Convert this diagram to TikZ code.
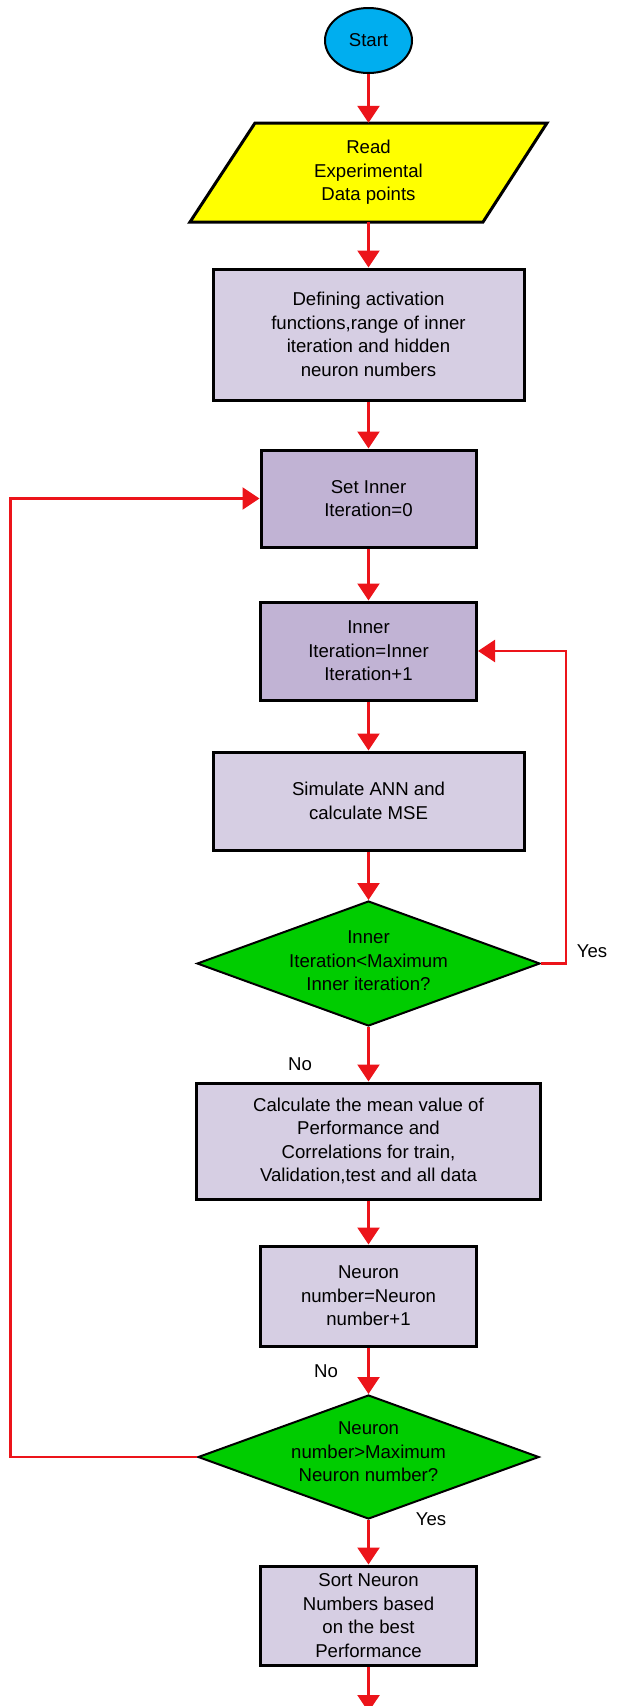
\documentclass[tikz,border=0pt]{standalone}
\usepackage{fontspec}
\setmainfont{Liberation Sans}
\usetikzlibrary{shapes.geometric,arrows.meta,backgrounds}
\definecolor{startblue}{RGB}{0,174,239}
\definecolor{readyellow}{RGB}{255,255,0}
\definecolor{lightlav}{RGB}{214,206,227}
\definecolor{darklav}{RGB}{193,179,212}
\definecolor{decgreen}{RGB}{0,204,0}
\definecolor{arrred}{RGB}{236,20,26}
\tikzset{
  txt/.style={align=center,font=\fontsize{18.6}{23.5}\selectfont,inner sep=0pt},
  procbox/.style={txt,draw=black,line width=3pt,rectangle},
  decision/.style={shape=diamond,draw=black,line width=2pt,fill=decgreen,inner sep=0pt},
  arr/.style={draw=arrred,line width=2.5pt,-{Triangle[width=22pt,length=17pt]}},
  lbl/.style={font=\fontsize{18.6}{23.5}\selectfont,inner sep=0pt}
}
\begin{document}
\begin{tikzpicture}[x=1pt,y=-1pt]
\path[clip] (0,0) rectangle (617,1706);
% nodes
\node[txt,shape=ellipse,draw=black,line width=2pt,fill=startblue,minimum width=87pt,minimum height=65pt] (start) at (368.5,40.5) {Start};
\node[txt,minimum width=292pt,minimum height=99pt] (read) at (368.5,172.5) {Read\\Experimental\\Data points};
\begin{scope}[on background layer]
\fill[white] (0,0) rectangle (617,1706);
\filldraw[fill=readyellow,draw=black,line width=3pt,line join=miter] (190,222) -- (483,222) -- (547,123) -- (255,123) -- cycle;
\end{scope}
\node[procbox,fill=lightlav,minimum width=311pt,minimum height=131pt] (def) at (368.5,334.5) {Defining activation\\functions,range of inner\\iteration and hidden\\neuron numbers};
\node[procbox,fill=darklav,minimum width=215pt,minimum height=97pt] (set) at (368.5,498.5) {Set Inner\\Iteration=0};
\node[procbox,fill=darklav,minimum width=216pt,minimum height=98pt] (inner) at (368.5,651) {Inner\\Iteration=Inner\\Iteration+1};
\node[procbox,fill=lightlav,minimum width=311pt,minimum height=98pt] (sim) at (368.5,801) {Simulate ANN and\\calculate MSE};
\node[decision,minimum width=343pt,minimum height=125pt] (d1) at (368.5,963.5) {};
\node[txt] (d1t) at (368.5,961) {Inner\\Iteration<Maximum\\Inner iteration?};
\node[procbox,fill=lightlav,minimum width=344pt,minimum height=116pt] (calc) at (368.5,1141) {Calculate the mean value of\\Performance and\\Correlations for train,\\Validation,test and all data};
\node[procbox,fill=lightlav,minimum width=216pt,minimum height=100pt] (neu) at (368.5,1296) {Neuron\\number=Neuron\\number+1};
\node[decision,minimum width=341pt,minimum height=124pt] (d2) at (368.5,1457) {};
\node[txt] (d2t) at (368.5,1452) {Neuron\\number>Maximum\\Neuron number?};
\node[procbox,fill=lightlav,minimum width=216pt,minimum height=99pt] (sort) at (368.5,1615.5) {Sort Neuron\\Numbers based\\on the best\\Performance};
% labels
\node[lbl] (yes1) at (592,951) {Yes};
\node[lbl] (no1) at (300,1064) {No};
\node[lbl] (no2) at (326,1371) {No};
\node[lbl] (yes2) at (431,1519) {Yes};
% connectors
\draw[arr] (start.south) -- (read.north);
\draw[arr] (read.south) -- (def.north);
\draw[arr] (def.south) -- (set.north);
\draw[arr] (set.south) -- (inner.north);
\draw[arr] (inner.south) -- (sim.north);
\draw[arr] (sim.south) -- (d1.north);
\draw[arr] (d1.south) -- (calc.north);
\draw[arr] (calc.south) -- (neu.north);
\draw[arr] (neu.south) -- (d2.north);
\draw[arr] (d2.south) -- (sort.north);
\coordinate (rx) at (566,963.5);
\draw[arr] (d1.east) -- (rx) |- (inner.east);
\coordinate (lx) at (10.6,1457);
\draw[arr] (d2.west) -- (lx) |- (set.west);
\coordinate (endpt) at (368.5,1712);
\draw[arr] (sort.south) -- (endpt);
\end{tikzpicture}
\end{document}
